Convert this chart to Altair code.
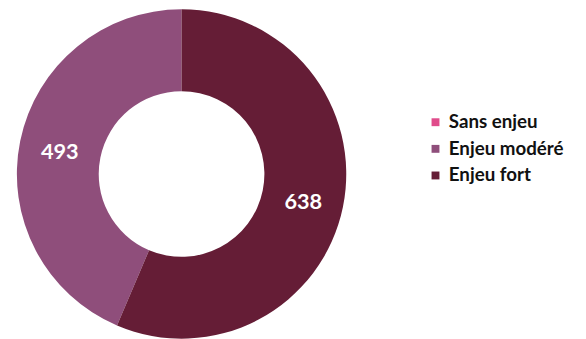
import altair as alt
import pandas as pd

categories = ["Sans enjeu", "Enjeu modéré", "Enjeu fort"]
values = [0, 493, 638]
arc_order = [0, 2, 1]
colors = ["#E04C8B", "#8F4E7B", "#651D36"]

df = pd.DataFrame({"cat": categories, "val": values, "ord": arc_order})
df["label"] = df["val"].apply(lambda v: str(v) if v > 0 else "")

cx, cy = 176, 166

base = alt.Chart(df).encode(
    theta=alt.Theta("val:Q", stack=True),
    order=alt.Order("ord:Q", sort="ascending"),
)

arcs = base.mark_arc(outerRadius=167, innerRadius=84, stroke=None).encode(
    x=alt.value(cx),
    y=alt.value(cy),
    color=alt.Color(
        "cat:N",
        scale=alt.Scale(domain=categories, range=colors),
        sort=categories,
        legend=alt.Legend(
            title=None,
            orient="none",
            legendX=424,
            legendY=104,
            symbolType="square",
            symbolSize=64,
            symbolStrokeWidth=0,
            labelFont="Lato",
            labelFontWeight="bold",
            labelFontSize=19,
            labelColor="#111111",
            rowPadding=7,
            labelOffset=4,
        ),
    ),
)

labels = base.mark_text(
    radius=126, font="Lato", fontWeight="bold", fontSize=22,
    align="center", baseline="middle", dy=3,
).encode(text="label:N", x=alt.value(cx), y=alt.value(cy), color=alt.value("white"))

chart = (
    alt.layer(arcs, labels)
    .properties(width=578, height=331, autosize=alt.AutoSizeParams(type="none"), padding=0)
    .configure_view(stroke=None)
)

chart.save("out.html", embed_options={"renderer": "svg", "actions": False})
